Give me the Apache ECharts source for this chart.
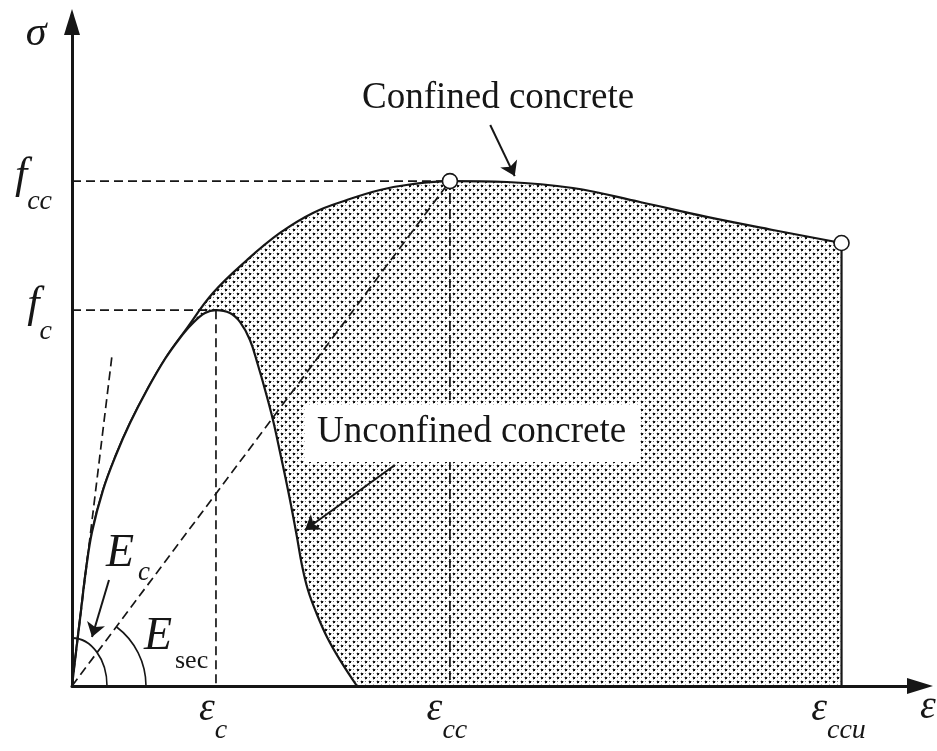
<!DOCTYPE html>
<html>
<head>
<meta charset="utf-8">
<script src="https://cdn.jsdelivr.net/npm/echarts@6/dist/echarts.min.js"></script>
<style>
  html, body { margin: 0; padding: 0; background: #fff; }
  #chart { width: 937px; height: 751px; }
</style>
</head>
<body>
<div id="chart"></div>
<script>
// Characteristic strains (‰) and their subscripts on the strain axis
const strainTicks = [2.0, 5.25, 10.69];
const strainTickNames = ['c', 'cc', 'ccu'];
// Characteristic stresses (MPa) and their subscripts on the stress axis
const stressTicks = [30.0, 40.3];
const stressTickNames = ['c', 'cc'];

// Key points of the model
const epsC = 2.0, epsCC = 5.25, epsCCU = 10.69;
const fC = 30.0, fCC = 40.3, fCCU = 35.36;
// Initial tangent (Ec) drawn from the origin up to this point
const tangentEnd = [0.556, 26.4];

// Confined concrete stress-strain curve
const confinedStrain = [0, 0.056, 0.125, 0.194, 0.278, 0.431, 0.611, 0.806, 1.042, 1.292, 1.597, 1.958, 2.431, 2.889, 3.347, 3.819, 4.278, 4.736, 5.25, 6.042, 6.958, 7.889, 8.819, 9.736, 10.69];
const confinedStress = [0, 2.71, 5.99, 9.26, 12.29, 15.64, 18.44, 20.99, 23.63, 26.1, 28.57, 31.37, 34.0, 36.16, 37.76, 38.79, 39.59, 40.07, 40.3, 40.23, 39.75, 38.63, 37.44, 36.40, 35.36];

// Unconfined concrete stress-strain curve
const unconfinedStrain = [0, 0.056, 0.125, 0.194, 0.278, 0.431, 0.611, 0.806, 1.042, 1.292, 1.5, 1.667, 1.847, 2.0, 2.194, 2.333, 2.472, 2.583, 2.694, 2.792, 2.889, 2.972, 3.042, 3.125, 3.194, 3.278, 3.389, 3.542, 3.722, 3.958];
const unconfinedStress = [0, 2.71, 5.99, 9.26, 12.29, 15.64, 18.44, 20.99, 23.63, 26.1, 27.78, 28.9, 29.77, 30.0, 29.77, 29.06, 27.62, 25.62, 23.39, 21.23, 18.68, 16.44, 14.45, 11.89, 9.66, 7.66, 5.91, 3.91, 2.08, 0];

function zip(xs, ys) { return xs.map((x, i) => [x, ys[i]]); }

// Stipple tile for the confinement gain region
function stippleTile() {
  const n = 8;
  const c = document.createElement('canvas');
  c.width = n; c.height = n;
  const g = c.getContext('2d');
  g.fillStyle = '#ffffff';
  g.fillRect(0, 0, n, n);
  g.fillStyle = '#b5b5b5';
  [[1, 0], [0, 1], [3, 1], [1, 3], [5, 4], [4, 5], [7, 5], [5, 7]].forEach(p => g.fillRect(p[0], p[1], 1, 1));
  g.fillStyle = '#111111';
  g.fillRect(1, 1, 2, 2);
  g.fillRect(5, 5, 2, 2);
  g.fillStyle = '#7a7a7a';
  g.fillRect(5, 1, 1, 1);
  g.fillRect(1, 5, 1, 1);
  return c;
}

const ink = '#161616';
const serif = '"Liberation Serif", "Times New Roman", serif';
const dash = [9, 5];

const chart = echarts.init(document.getElementById('chart'), null, { renderer: 'canvas' });

function dashedSeries(points) {
  return {
    type: 'line', data: points, showSymbol: false, symbol: 'none', silent: true,
    lineStyle: { color: ink, width: 1.7, type: dash }, z: 4
  };
}

chart.setOption({
  animation: false,
  backgroundColor: '#ffffff',
  grid: { left: 72, right: 17, top: 22, bottom: 65 },
  xAxis: {
    type: 'value', min: 0, max: 11.78, z: 10,
    axisLine: { show: true, lineStyle: { color: ink, width: 3 }, symbol: ['none', 'triangle'], symbolSize: [16, 26] },
    axisTick: { show: false },
    splitLine: { show: false },
    axisLabel: {
      customValues: strainTicks,
      margin: 3,
      formatter: function (v) {
        const i = strainTicks.indexOf(v);
        return '{m|ε}{s|' + strainTickNames[i] + '}';
      },
      rich: {
        m: { fontFamily: serif, fontStyle: 'italic', fontSize: 40, lineHeight: 36, verticalAlign: 'top', color: ink },
        s: { fontFamily: serif, fontStyle: 'italic', fontSize: 28, lineHeight: 16, padding: [28, 6, 0, 0], verticalAlign: 'top', color: ink }
      }
    }
  },
  yAxis: {
    type: 'value', min: 0, max: 53, z: 10,
    axisLine: { show: true, lineStyle: { color: ink, width: 3 }, symbol: ['none', 'triangle'], symbolSize: [16, 26] },
    axisTick: { show: false },
    splitLine: { show: false },
    axisLabel: {
      customValues: stressTicks,
      margin: 20,
      formatter: function (v) {
        const i = stressTicks.indexOf(v);
        return '{m|f}{s|' + stressTickNames[i] + '}';
      },
      rich: {
        m: { fontFamily: serif, fontStyle: 'italic', fontSize: 44, lineHeight: 54, verticalAlign: 'top', color: ink },
        s: { fontFamily: serif, fontStyle: 'italic', fontSize: 28, lineHeight: 20, padding: [34, 0, 0, 0], verticalAlign: 'top', color: ink }
      }
    }
  },
  series: [
    {
      name: 'Confined concrete',
      type: 'line', data: zip(confinedStrain, confinedStress), smooth: 0.4,
      showSymbol: false, symbol: 'none', silent: true, z: 2,
      lineStyle: { color: ink, width: 2.2 },
      areaStyle: { color: { image: stippleTile(), repeat: 'repeat' }, opacity: 1 }
    },
    {
      name: 'Unconfined concrete',
      type: 'line', data: zip(unconfinedStrain, unconfinedStress), smooth: 0.4,
      showSymbol: false, symbol: 'none', silent: true, z: 3,
      lineStyle: { color: ink, width: 2.2 },
      areaStyle: { color: '#ffffff', opacity: 1 }
    },
    {
      // ultimate strain: the confined curve drops to the axis
      type: 'line', data: [[epsCCU, fCCU], [epsCCU, 0]], showSymbol: false, symbol: 'none', silent: true, z: 3,
      lineStyle: { color: ink, width: 2.2 }
    },
    dashedSeries([[0, fCC], [epsCC, fCC]]),
    dashedSeries([[0, fC], [epsC, fC]]),
    dashedSeries([[epsC, fC], [epsC, 0]]),
    dashedSeries([[epsCC, fCC], [epsCC, 0]]),
    dashedSeries([[0, 0], [epsCC, fCC]]),
    dashedSeries([[0, 0], tangentEnd]),
    {
      // angle marks for the initial and secant moduli
      type: 'custom', coordinateSystem: 'cartesian2d', data: [[0, 0]], silent: true, z: 5,
      renderItem: function (params, api) {
        const o = api.coord([0, 0]);
        const s = api.coord([epsCC, fCC]);
        const secAngle = Math.atan2(s[1] - o[1], s[0] - o[0]);
        return {
          type: 'group',
          children: [
            {
              type: 'arc', x: o[0], y: o[1], scaleY: 48 / 35,
              shape: { cx: 0, cy: 0, r: 35, startAngle: -Math.PI / 2, endAngle: 0, clockwise: true },
              style: { stroke: ink, fill: null, lineWidth: 1.6, strokeNoScale: true }
            },
            {
              type: 'arc',
              shape: { cx: o[0], cy: o[1], r: 74, startAngle: secAngle, endAngle: 0, clockwise: true },
              style: { stroke: ink, fill: null, lineWidth: 1.6 }
            }
          ]
        };
      }
    },
    {
      type: 'lines', coordinateSystem: 'cartesian2d', silent: true, z: 6,
      symbol: ['none', 'arrow'], symbolSize: 14,
      lineStyle: { color: ink, width: 2, opacity: 1 },
      data: [
        { coords: [[5.81, 44.78], [6.15, 40.7]] },
        { coords: [[4.486, 17.64], [3.236, 12.45]] },
        { coords: [[0.514, 8.46], [0.278, 3.91]] }
      ]
    },
    {
      type: 'scatter', data: [[epsCC, fCC], [epsCCU, fCCU]], silent: true, z: 7,
      symbol: 'circle', symbolSize: 15,
      itemStyle: { color: '#ffffff', borderColor: ink, borderWidth: 1.6, opacity: 1 }
    }
  ],
  graphic: [
    { type: 'text', z: 100, style: { x: 36, y: 34, text: 'σ', font: 'italic 42px ' + serif, fill: ink, align: 'center', verticalAlign: 'middle' } },
    { type: 'text', z: 100, style: { x: 928, y: 707, text: 'ε', font: 'italic 40px ' + serif, fill: ink, align: 'center', verticalAlign: 'middle' } },
    { type: 'text', z: 100, style: { x: 362, y: 98, text: 'Confined concrete', font: '37px ' + serif, fill: ink, align: 'left', verticalAlign: 'middle' } },
    { type: 'rect', z: 99, shape: { x: 305, y: 405, width: 335, height: 57 }, style: { fill: '#ffffff' } },
    { type: 'text', z: 100, style: { x: 317, y: 432, text: 'Unconfined concrete', font: '37px ' + serif, fill: ink, align: 'left', verticalAlign: 'middle' } },
    { type: 'text', z: 100, style: { x: 106, y: 554, text: 'E', font: 'italic 46px ' + serif, fill: ink, align: 'left', verticalAlign: 'middle' } },
    { type: 'text', z: 100, style: { x: 138, y: 573, text: 'c', font: 'italic 27px ' + serif, fill: ink, align: 'left', verticalAlign: 'middle' } },
    { type: 'text', z: 100, style: { x: 144, y: 637, text: 'E', font: 'italic 46px ' + serif, fill: ink, align: 'left', verticalAlign: 'middle' } },
    { type: 'text', z: 100, style: { x: 175, y: 661, text: 'sec', font: '26px ' + serif, fill: ink, align: 'left', verticalAlign: 'middle' } }
  ]
});
</script>
</body>
</html>
